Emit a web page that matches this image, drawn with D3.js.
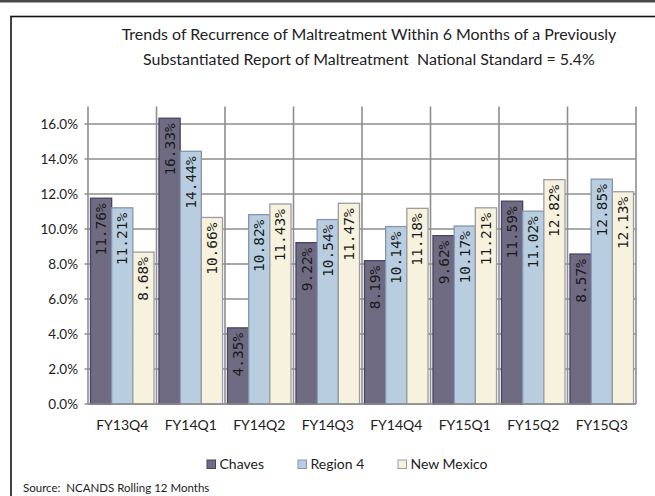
<!DOCTYPE html>
<html>
<head>
<meta charset="utf-8">
<script src="https://cdn.jsdelivr.net/npm/d3@7"></script>
<style>
  html, body { margin: 0; padding: 0; background: #fff; }
  svg { display: block; }
  text { white-space: pre; }
</style>
</head>
<body>
<svg id="chart" width="655" height="496"></svg>
<script>
const categories = ["FY13Q4","FY14Q1","FY14Q2","FY14Q3","FY14Q4","FY15Q1","FY15Q2","FY15Q3"];
const seriesNames = ["Chaves","Region 4","New Mexico"];
const chaves    = [11.76, 16.33, 4.35, 9.22, 8.19, 9.62, 11.59, 8.57];
const region4   = [11.21, 14.44, 10.82, 10.54, 10.14, 10.17, 11.02, 12.85];
const newMexico = [8.68, 10.66, 11.43, 11.47, 11.18, 11.21, 12.82, 12.13];
const yTicks = [0, 2, 4, 6, 8, 10, 12, 14, 16];
const titleLines = [
  "Trends of Recurrence of Maltreatment Within 6 Months of a Previously",
  "Substantiated Report of Maltreatment  National Standard = 5.4%"
];
const sourceText = "Source:  NCANDS Rolling 12 Months";

(function () {
const series = [chaves, region4, newMexico];
const fills   = ["#6f6b83", "#b8cee0", "#f6f2dd"];
const strokes = ["#4a4262", "#8595b0", "#9c9ca4"];

const svg = d3.select("#chart");

// outer frame
svg.append("rect").attr("x", 0).attr("y", 0).attr("width", 655).attr("height", 2.5).attr("fill", "#4a4a4a");
svg.append("rect").attr("x", 11).attr("y", 16.5).attr("width", 700).attr("height", 600)
  .attr("fill", "none").attr("stroke", "#111").attr("stroke-width", 1.6);

// title
const titleFont = "Lato, 'Open Sans', sans-serif";
const titleBaselines = [40, 65];
const tEls = titleLines.map((t, i) => svg.append("text").attr("x", 369).attr("y", titleBaselines[i])
    .attr("text-anchor", "middle").attr("font-family", titleFont)
    .attr("font-size", 16).attr("fill", "#222").attr("xml:space", "preserve").text(t));
const w0 = tEls[0].node().getComputedTextLength();
const fs = 16 * 495 / w0;
tEls.forEach(el => el.attr("font-size", fs));

const pL = 88, pR = 636, pT = 106.5, pB = 404;
const x0 = d3.scaleBand().domain(categories).range([pL, pR]).paddingInner(0).paddingOuter(0);
const x1 = d3.scaleBand().domain(seriesNames).range([0, x0.bandwidth()]).paddingInner(0).paddingOuter(0.117);
const y = d3.scaleLinear().domain([0, 17]).range([pB, pT]);

const grid = "#8e8e8e";
svg.append("g").selectAll("line").data(yTicks).join("line")
  .attr("x1", pL - 3.5).attr("x2", pR)
  .attr("y1", d => y(d)).attr("y2", d => y(d))
  .attr("stroke", grid).attr("stroke-width", 1.6);
const bounds = categories.map(c => x0(c)).concat([pR]);
svg.append("g").selectAll("line").data(bounds).join("line")
  .attr("x1", d => d).attr("x2", d => d)
  .attr("y1", pT).attr("y2", pB)
  .attr("stroke", grid).attr("stroke-width", 1.6);

const yAxis = d3.axisLeft(y).tickValues(yTicks).tickSize(0).tickPadding(10)
  .tickFormat(d => d.toFixed(1) + "%");
const ya = svg.append("g").attr("transform", `translate(${pL},0)`).call(yAxis);
ya.select(".domain").remove();
ya.selectAll("text").attr("font-family", "Lato, sans-serif").attr("font-size", 13.5).attr("fill", "#222");

const groups = svg.append("g").selectAll("g").data(categories).join("g")
  .attr("transform", d => `translate(${x0(d)},0)`);
groups.each(function(cat, ci) {
  const g = d3.select(this);
  seriesNames.forEach((s, si) => {
    const v = series[si][ci];
    g.append("rect")
      .attr("x", x1(s)).attr("width", x1.bandwidth())
      .attr("y", y(v)).attr("height", y(0) - y(v))
      .attr("fill", fills[si]).attr("stroke", strokes[si]).attr("stroke-width", 1.3);
  });
});
groups.each(function(cat, ci) {
  const g = d3.select(this);
  seriesNames.forEach((s, si) => {
    const v = series[si][ci];
    const cx = x1(s) + x1.bandwidth() / 2;
    const ty = y(v) + 5;
    g.append("text")
      .attr("transform", `translate(${cx},${ty}) rotate(-90)`)
      .attr("text-anchor", "end").attr("dominant-baseline", "central")
      .attr("font-family", "'DejaVu Sans Mono', monospace").attr("font-size", 14.5)
      .attr("fill", "#1a1a1a")
      .text(v.toFixed(2).replace(/0$/, "").replace(/\.$/, "") + "%");
  });
});

svg.append("line").attr("x1", pL).attr("x2", pR).attr("y1", pB).attr("y2", pB)
  .attr("stroke", grid).attr("stroke-width", 1.6);

const xAxis = d3.axisBottom(x0).tickSize(0).tickPadding(16);
const xa = svg.append("g").attr("transform", `translate(0,${pB})`).call(xAxis);
xa.select(".domain").remove();
xa.selectAll("text").attr("font-family", "Lato, sans-serif").attr("font-size", 14).attr("fill", "#222");

const legendX = [207, 298, 398];
const leg = svg.append("g");
seriesNames.forEach((s, i) => {
  leg.append("rect").attr("x", legendX[i]).attr("y", 460).attr("width", 8.5).attr("height", 8.5)
    .attr("fill", fills[i]).attr("stroke", strokes[i]).attr("stroke-width", 1);
  leg.append("text").attr("x", legendX[i] + 12.5).attr("y", 469)
    .attr("font-family", "Lato, sans-serif").attr("font-size", 14).attr("fill", "#222").text(s);
});

svg.append("text").attr("x", 23).attr("y", 492)
  .attr("font-family", "Lato, sans-serif").attr("font-size", 11.5).attr("fill", "#222")
  .attr("xml:space", "preserve").text(sourceText);
})();
</script>
</body>
</html>
